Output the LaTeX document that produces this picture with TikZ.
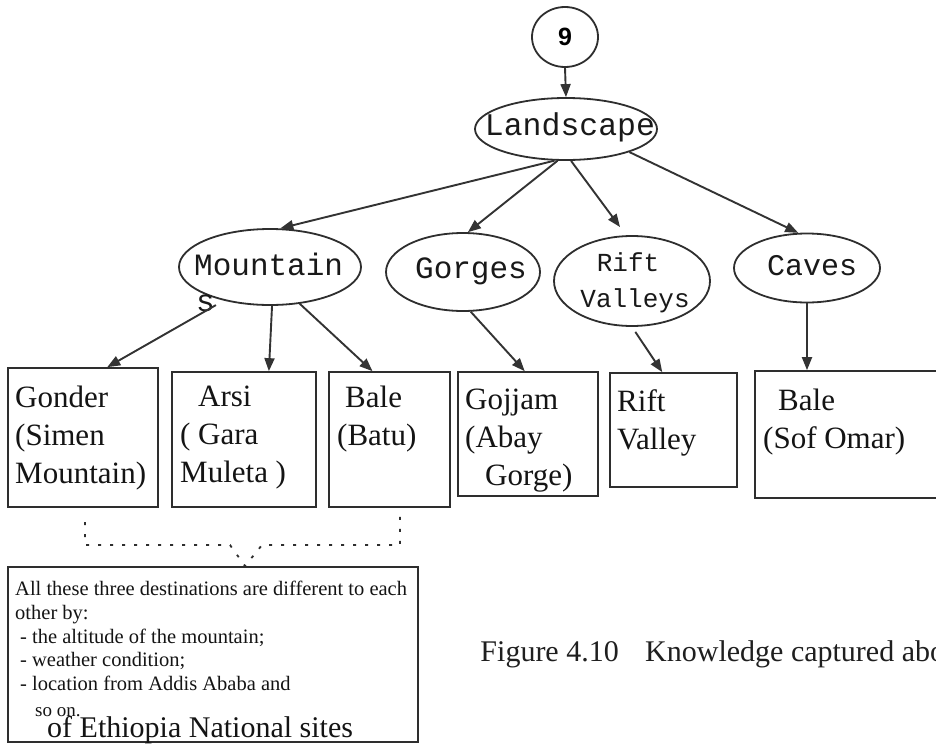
\documentclass[tikz,border=0pt]{standalone}
\usepackage{fontspec}
\setmainfont{Liberation Serif}
\newfontfamily\monofam{Liberation Mono}
\newfontfamily\sansfam{Liberation Sans}
\usetikzlibrary{shapes.geometric,arrows.meta,calc}

\begin{document}
\begin{tikzpicture}[x=1pt,y=-1pt,
  ink/.style={draw=black!82, line width=1.8pt},
  oval/.style={ink, ellipse, inner sep=0pt},
  frame/.style={ink, rectangle, inner sep=0pt, line width=1.7pt},
  link/.style={black!80, line width=1.9pt, -{Triangle[length=13pt,width=10pt]}},
  mono/.style={font=\monofam\fontsize{31}{36}\selectfont, inner sep=0pt, text=black!90},
  boxtext/.style={font=\fontsize{31}{38}\selectfont, inner sep=0pt, align=left, anchor=north west, text=black!92},
  notetext/.style={font=\fontsize{20.5}{23.7}\selectfont, inner sep=0pt, align=left, anchor=north west, text=black!92},
  dots/.style={black!82, line width=1.8pt, dash pattern=on 3pt off 9pt},
]
\useasboundingbox (0,0) rectangle (936,744);
\clip (0,0) rectangle (936,744);
\fill[white] (0,0) rectangle (936,744);

% top of the tree
\node[oval, minimum width=66pt, minimum height=60pt] (nine) at (565,37) {};
\node[font=\sansfam\bfseries\fontsize{25}{30}\selectfont, inner sep=0pt] (ninetxt) at (565,37) {9};

\node[oval, minimum width=182pt, minimum height=62pt] (land) at (566,129) {};
\node[mono, anchor=base, font=\monofam\fontsize{31.5}{36}\selectfont] (landtxt) at (570,135) {Landscape};

% second level
\node[oval, minimum width=182pt, minimum height=76pt] (mount) at (270,267) {};
\node[mono, anchor=base west] (mounttxt) at (194,275) {Mountain};
\node[mono, anchor=base west] (mounts) at (196,311) {s};

\node[oval, minimum width=154pt, minimum height=78pt] (gorge) at (463,272) {};
\node[mono, anchor=base] (gorgetxt) at (471,278) {Gorges};

\node[oval, minimum width=156pt, minimum height=90pt] (rift) at (632,281) {};
\node[mono, anchor=base, font=\monofam\fontsize{26}{30}\selectfont] (rifttxt) at (628,271) {Rift};
\node[mono, anchor=base, font=\monofam\fontsize{26}{30}\selectfont] (valtxt) at (635,307) {Valleys};

\node[oval, minimum width=146pt, minimum height=69pt] (caves) at (807,268) {};
\node[mono, anchor=base, font=\monofam\fontsize{30}{36}\selectfont] (cavestxt) at (812,275) {Caves};

% destination boxes
\node[frame, minimum width=150pt, minimum height=139pt] (gonder) at (83,437.5) {};
\node[boxtext] (gondertxt) at (15,386) {Gonder\\(Simen\\Mountain)};

\node[frame, minimum width=144pt, minimum height=135pt] (arsi) at (244,439.5) {};
\node[boxtext] (arsitxt) at (180,386) {\hspace*{18pt}Arsi\\( Gara\\Muleta )};

\node[frame, minimum width=121pt, minimum height=135pt] (bale) at (389.5,439.5) {};
\node[boxtext] (baletxt) at (337,386) {\hspace*{8pt}Bale\\(Batu)};

\node[frame, minimum width=140pt, minimum height=124pt] (gojjam) at (528,434) {};
\node[boxtext] (gojjamtxt) at (465,389) {Gojjam\\(Abay\\\hspace*{20pt}Gorge)};

\node[frame, minimum width=127pt, minimum height=114pt] (rvbox) at (673.5,430) {};
\node[boxtext] (rvtxt) at (617,389) {Rift\\Valley};

\node[frame, minimum width=205pt, minimum height=127pt] (sofomar) at (857.5,434.5) {};
\node[boxtext] (sofomartxt) at (763,389) {\hspace*{15pt}Bale\\(Sof Omar)};

% note under the three mountain sites
\node[frame, minimum width=410pt, minimum height=175pt] (notebox) at (213,654.5) {};
\node[notetext] (notetxt) at (15,581) {All these three destinations are different to each\\other by:\\\hspace*{5pt}- the altitude of the mountain;\\\hspace*{5pt}- weather condition;\\\hspace*{5pt}- location from Addis Ababa and};
\node[anchor=base west, inner sep=0pt, font=\fontsize{19}{23}\selectfont, text=black!92] (soon) at (35,716) {so on.};
\node[anchor=base west, inner sep=0pt, font=\fontsize{30}{36}\selectfont, text=black!92] (ethiopia) at (47,737) {of Ethiopia National sites};

% caption
\node[anchor=base east, inner sep=0pt, font=\fontsize{30}{36}\selectfont, text=black!88] (capnum) at (619,661) {Figure 4.10};
\node[anchor=base west, inner sep=0pt, font=\fontsize{30}{36}\selectfont, text=black!88] (captxt) at (645,661) {Knowledge captured abo};

% connectors
\draw[link] (nine.south) -- (land.north);
\draw[link] (land.250) -- (mount.75);
\draw[link] (land.255) -- (gorge.83);
\draw[link, shorten >=10pt] (land.279) -- ($(rift.north)+(-6,0)$);
\draw[link] (land.340) -- (caves.104);

\draw[link, shorten <=9pt] (mount.216) -- (gonder.71);
\draw[link] (mount.273) -- (arsi.70);
\draw[link] (mount.309) -- (bale.104);
\draw[link] (gorge.281) -- (gojjam.93);
\draw[link, shorten <=6pt] (rift.south) -- (rvbox.101);
\draw[link] (caves.south) -- (caves.south |- sofomar.north);

% dotted bracket grouping the three mountain sites
\coordinate (bl) at (85,522);
\coordinate (blc) at (85,545);
\coordinate (bm1) at (230,545);
\coordinate (bv) at (245,566);
\coordinate (bm2) at (262,545);
\coordinate (brc) at (400,545);
\coordinate (br) at (400,513);
\draw[dots] (bl) -- (blc) -- (bm1) -- (bv) -- (bm2) -- (brc) -- (br);

\end{tikzpicture}
\end{document}
